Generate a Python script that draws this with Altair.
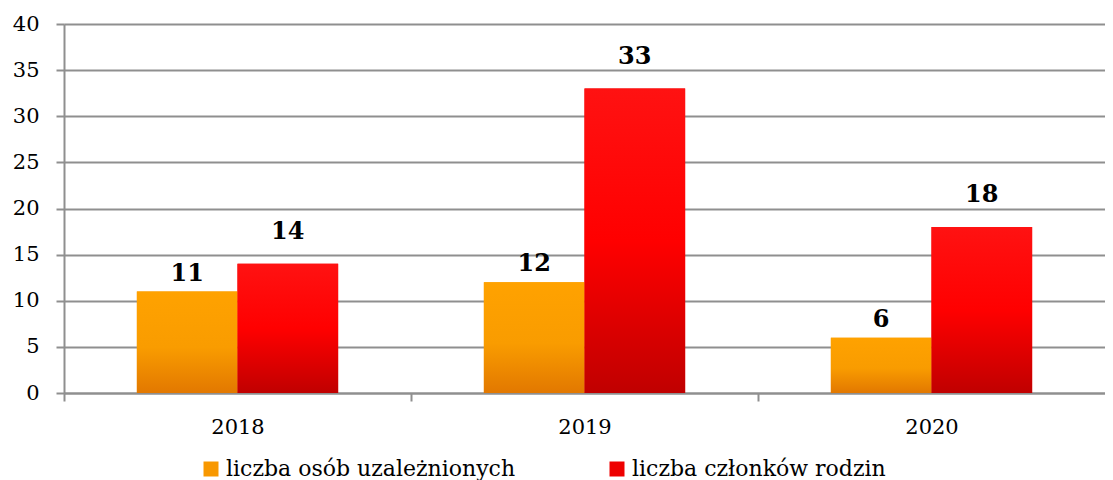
import altair as alt
import pandas as pd

years = ["2018", "2019", "2020"]
series = ["liczba osób uzależnionych", "liczba członków rodzin"]
addicted = [11, 12, 6]
family = [14, 33, 18]
y_ticks = [0, 5, 10, 15, 20, 25, 30, 35, 40]

rows = []
for i, yr in enumerate(years):
    rows.append({"year": yr, "series": series[0], "value": addicted[i]})
    rows.append({"year": yr, "series": series[1], "value": family[i]})
df = pd.DataFrame(rows)

FONT = "DejaVu Serif"
GRID = "#8f8f8f"
PLOT_W = 1041
STEP = PLOT_W / 3

grad_orange = {
    "gradient": "linear", "x1": 0, "y1": 0, "x2": 0, "y2": 1,
    "stops": [
        {"offset": 0, "color": "#ffa200"},
        {"offset": 0.55, "color": "#f99c00"},
        {"offset": 1, "color": "#e27800"},
    ],
}
grad_red = {
    "gradient": "linear", "x1": 0, "y1": 0, "x2": 0, "y2": 1,
    "stops": [
        {"offset": 0, "color": "#ff1212"},
        {"offset": 0.5, "color": "#ff0000"},
        {"offset": 1, "color": "#c00000"},
    ],
}

base = alt.Chart(df).encode(
    x=alt.X(
        "year:N",
        sort=years,
        scale=alt.Scale(paddingInner=0.42, paddingOuter=0.21),
        axis=alt.Axis(
            title=None, labelAngle=0, grid=False, tickOffset=-STEP / 2, labelOffset=STEP / 2,
            tickSize=8, tickColor=GRID, domainColor=GRID, domainWidth=2, tickWidth=2,
            labelFont=FONT, labelFontSize=21, labelColor="black", labelPadding=15,
        ),
    ),
    xOffset=alt.XOffset("series:N", sort=series, scale=alt.Scale(paddingInner=0, paddingOuter=0)),
    y=alt.Y(
        "value:Q",
        scale=alt.Scale(domain=[0, 40], nice=False, zero=True),
        axis=alt.Axis(
            title=None, values=y_ticks, grid=True, gridColor=GRID, gridWidth=2,
            tickSize=8, tickColor=GRID, tickWidth=2, domainColor=GRID, domainWidth=2,
            labelFont=FONT, labelFontSize=21, labelColor="black", labelPadding=17,
        ),
    ),
)

bars_legend = base.mark_bar().encode(
    color=alt.Color(
        "series:N",
        sort=series,
        scale=alt.Scale(domain=series, range=["#f89800", "#ee0000"]),
        legend=alt.Legend(
            title=None, orient="none", direction="horizontal",
            legendX=136, legendY=434, symbolType="square", symbolSize=225,
            symbolStrokeWidth=0, labelFont=FONT, labelFontSize=22, labelColor="black",
            labelOffset=4, columnPadding=90, labelLimit=400, padding=0,
        ),
    )
)

bars_grad = base.mark_bar().encode(
    color=alt.condition(alt.datum.series == series[0], alt.value(grad_orange), alt.value(grad_red))
)

labels_o = base.transform_filter(alt.datum.series == series[0]).mark_text(
    font=FONT, fontSize=24, fontWeight="bold", color="black", baseline="bottom", dy=-6
).encode(text="value:Q")

labels_r = base.transform_filter(alt.datum.series == series[1]).mark_text(
    font=FONT, fontSize=24, fontWeight="bold", color="black", baseline="bottom", dy=-20
).encode(text="value:Q")

chart = (
    alt.layer(bars_legend, bars_grad, labels_o, labels_r)
    .properties(
        width=PLOT_W, height=369,
        padding={"left": 56, "top": 16, "right": 0, "bottom": 87},
        autosize=alt.AutoSizeParams(type="none"),
    )
    .configure_view(fill="#d9d9d9", stroke=None)
    .configure(background="white")
)

chart.save("out.html", embed_options={"renderer": "svg", "actions": False})
